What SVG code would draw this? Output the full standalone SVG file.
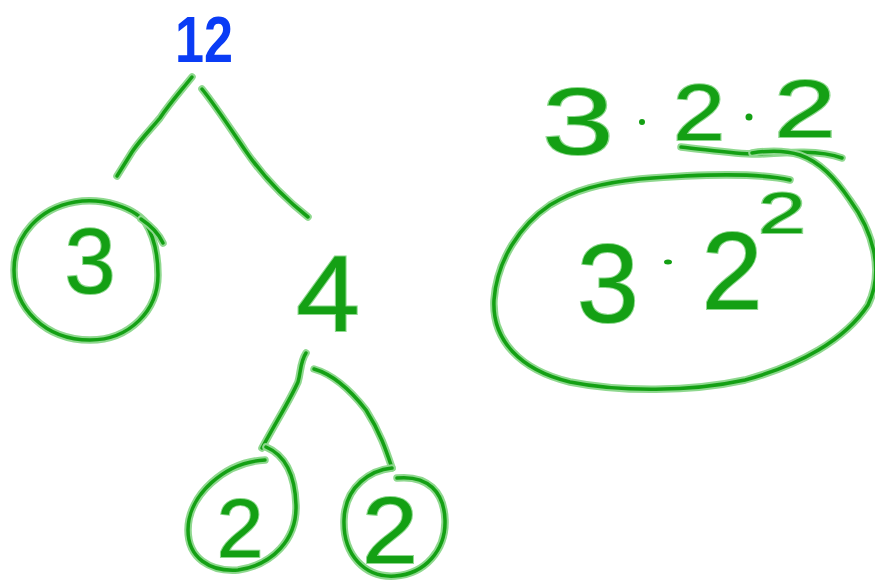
<svg xmlns="http://www.w3.org/2000/svg" width="875" height="585" viewBox="0 0 875 585">
<style>
.ink{fill:none;stroke:#14a014;stroke-width:3.5;stroke-linecap:round;stroke-linejoin:round}
.halo{fill:none;stroke:#8fd88f;stroke-width:7.5;stroke-linecap:round;stroke-linejoin:round}
.num{font-family:"Liberation Sans","DejaVu Sans",sans-serif;fill:#14a014;stroke:#8fd88f;stroke-width:2;paint-order:stroke;text-anchor:middle}
.blue{font-family:"Liberation Sans","DejaVu Sans",sans-serif;fill:#0a3cf5;font-weight:bold;text-anchor:middle}
.dot{fill:#14a014}
</style>
<defs>
<g id="shapes">
<path id="lineL" d="M192,77 C180,92 170,103 160,118 C150,130 140,140 132,152 L117,176"/>
<path id="lineR" d="M202,89 C215,105 228,125 245,150 C262,175 280,195 308,217"/>
<path id="c3" d="M150,228 C135,205 100,198 75,202 C40,208 14,235 14,270 C14,308 45,340 90,340 C130,340 158,310 158,275 C158,255 155,238 145,222"/>
<path id="c3t" d="M141,219 C150,225 158,232 163,243"/>
<path id="lineLL" d="M306,353 C300,362 301,372 298,382 C290,400 280,415 262,448"/>
<path id="c2a" d="M265,460 C225,462 188,495 188,530 C188,558 210,572 238,570 C272,565 297,540 296,505 C295,475 285,455 266,447"/>
<path id="lineLR" d="M314,369 C335,375 352,392 366,410 C380,432 386,450 392,468"/>
<path id="c2b" d="M392,468 C372,470 345,485 344,520 C343,555 365,578 395,576 C425,574 446,550 445,520 C444,492 428,475 397,478"/>
<path id="under" d="M681,147 C710,150 740,155 760,154 C790,152 820,150 842,158"/>
<path id="ell" d="M790,180 C760,173 700,174 640,179 C600,183 575,190 550,205 C520,225 497,260 494,300 C492,340 520,370 570,382 C620,392 690,392 745,380 C800,365 845,340 868,305 C885,270 872,230 850,200 C835,178 820,162 800,155 C785,150 765,151 752,153"/>
</g>
</defs>
<g id="connectors">
<use href="#lineL" class="halo"/><use href="#lineL" class="ink"/>
<use href="#lineR" class="halo"/><use href="#lineR" class="ink"/>
<use href="#lineLL" class="halo"/><use href="#lineLL" class="ink"/>
<use href="#lineLR" class="halo"/><use href="#lineLR" class="ink"/>
</g>
<g id="n12"><text class="blue" x="204" y="62" font-size="64" textLength="58" lengthAdjust="spacingAndGlyphs">12</text></g>
<g id="n3">
<use href="#c3" class="halo"/><use href="#c3" class="ink"/>
<use href="#c3t" class="halo"/><use href="#c3t" class="ink"/>
<text class="num" x="90" y="293" font-size="92">3</text>
</g>
<g id="n4"><text class="num" x="328" y="331" font-size="108" textLength="64" lengthAdjust="spacingAndGlyphs">4</text></g>
<g id="n2a">
<use href="#c2a" class="halo"/><use href="#c2a" class="ink"/>
<text class="num" x="240" y="557" font-size="84">2</text>
</g>
<g id="n2b">
<use href="#c2b" class="halo"/><use href="#c2b" class="ink"/>
<text class="num" x="390" y="563" font-size="94" textLength="56" lengthAdjust="spacingAndGlyphs">2</text>
</g>
<g id="expr1">
<text class="num" x="578" y="154" font-size="95" textLength="72" lengthAdjust="spacingAndGlyphs">3</text>
<circle class="dot" cx="642" cy="122" r="3"/>
<text class="num" x="699" y="140" font-size="80" textLength="52" lengthAdjust="spacingAndGlyphs">2</text>
<circle class="dot" cx="749" cy="117" r="3.5"/>
<text class="num" x="805" y="137" font-size="82" textLength="62" lengthAdjust="spacingAndGlyphs">2</text>
<use href="#under" class="halo"/><use href="#under" class="ink"/>
</g>
<g id="expr2">
<use href="#ell" class="halo"/><use href="#ell" class="ink"/>
<text class="num" x="608" y="322" font-size="112">3</text>
<ellipse class="dot" cx="668" cy="262" rx="4" ry="2.5"/>
<text class="num" x="732" y="309" font-size="110">2</text>
<text class="num" x="782" y="233" font-size="58" textLength="48" lengthAdjust="spacingAndGlyphs">2</text>
</g>
</svg>
